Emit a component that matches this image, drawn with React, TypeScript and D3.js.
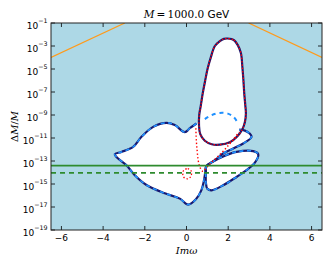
import React from "react";
import * as d3 from "d3";

type P = [number, number];

const xTicks = [-6, -4, -2, 0, 2, 4, 6];
const yTickExps = [-1, -3, -5, -7, -9, -11, -13, -15, -17, -19];

// contour points: [Im ω, log10(ΔM/M)]
const tallLobe: P[] = [
  [1.98, -2.35], [2.27, -2.48], [2.46, -2.92], [2.61, -3.61], [2.68, -4.81],
  [2.73, -5.97], [2.77, -7.12], [2.82, -8.14], [2.85, -8.87], [2.8, -9.62],
  [2.68, -10.23], [2.44, -10.84], [2.08, -11.37], [1.6, -11.58], [1.21, -11.54],
  [0.88, -11.24], [0.66, -10.67], [0.6, -9.89], [0.61, -9.01], [0.69, -8.14],
  [0.78, -7.1], [0.9, -5.97], [1.02, -4.92], [1.17, -3.96], [1.36, -3.0],
  [1.6, -2.57], [1.79, -2.38],
];

const leftLobe: P[] = [
  [0.48, -9.74], [0.16, -10.15], [-0.08, -10.49], [-0.56, -9.88], [-0.96, -9.68],
  [-1.6, -10.03], [-2.16, -10.9], [-2.56, -11.78], [-3.12, -12.21], [-3.44, -12.41],
  [-3.36, -12.65], [-2.88, -13.37], [-2.48, -14.24], [-1.92, -15.09], [-1.04, -15.81],
  [-0.32, -16.27], [0.08, -16.79], [0.45, -16.33], [0.71, -15.55], [0.83, -14.76],
  [0.9, -13.98], [0.95, -13.46], [1.36, -12.93], [1.76, -12.35], [2.24, -11.91],
  [2.72, -11.48], [3.12, -10.9], [3.03, -10.61], [2.8, -10.36], [2.53, -10.28],
];

const rightWing: P[] = [
  [0.95, -13.46], [1.21, -13.11], [1.76, -12.6], [2.4, -12.2], [3.2, -12.14],
  [3.44, -12.4], [3.28, -13.15], [2.88, -13.8], [2.4, -14.39], [1.76, -15.11],
  [1.2, -15.55], [1.0, -15.42], [0.93, -14.85], [0.93, -13.98],
];

const innerArc: P[] = [
  [0.88, -9.36], [1.21, -9.01], [1.6, -8.82], [1.98, -8.88], [2.27, -9.19], [2.48, -9.74],
];

const redDotted: P[] = [
  [0.45, -10.15], [0.47, -11.19], [0.51, -12.06], [0.56, -12.93], [0.64, -13.52],
  [0.78, -13.89], [0.96, -13.59], [1.2, -13.11], [1.52, -12.59], [1.89, -11.89],
  [2.22, -11.19], [2.51, -10.49],
];

const redCircle: P[] = [
  [-0.13, -13.8], [0.06, -13.67], [0.23, -13.89], [0.21, -14.33], [0.06, -14.55],
  [-0.13, -14.41], [-0.18, -14.07],
];

const orangeLeft: P[] = [[-6.5, -4.0], [-2.96, -1.0]];
const orangeRight: P[] = [[2.98, -1.0], [6.5, -4.0]];

const greenSolidExp = -13.4;
const greenDashedExp = -14.04;

const NAVY = "#191970";
const DBLUE = "#1e90ff";

export default function App() {
  const L = 51, R = 322, T = 23, B = 230;
  const x = d3.scaleLinear().domain([-6.5, 6.5]).range([L, R]);
  const y = d3.scaleLog().domain([1e-19, 1e-1]).range([B, T]);
  const gx = (d: P) => x(d[0]);
  const gy = (d: P) => y(Math.pow(10, d[1]));
  const open = d3.line<P>().x(gx).y(gy).curve(d3.curveCatmullRom.alpha(0.5));
  const closed = d3.line<P>().x(gx).y(gy).curve(d3.curveCatmullRomClosed.alpha(0.5));
  const straight = d3.line<P>().x(gx).y(gy);

  const tallD = closed(tallLobe) || "";
  const leftD = open(leftLobe) || "";
  const wingD = closed(rightWing) || "";

  return (
    <div>
      <style>{`body{margin:0}`}</style>
      <svg width={332} height={266} style={{ display: "block" }}>
        <defs>
          <clipPath id="plot">
            <rect x={L} y={T} width={R - L} height={B - T} />
          </clipPath>
        </defs>
        <rect x={0} y={0} width={332} height={266} fill="white" />
        <g clipPath="url(#plot)">
          <rect x={L} y={T} width={R - L} height={B - T} fill="#add8e6" />
          <path d={leftD + "Z"} fill="white" />
          <path d={wingD} fill="white" />
          <path d={tallD} fill="white" />
          <path d={straight(orangeLeft) || ""} stroke="#ff9a1a" strokeWidth={1.2} fill="none" />
          <path d={straight(orangeRight) || ""} stroke="#ff9a1a" strokeWidth={1.2} fill="none" />

          <path d={leftD} stroke={NAVY} strokeWidth={2.2} fill="none" />
          <path d={leftD} stroke={DBLUE} strokeWidth={1.6} strokeDasharray="4,3.5" fill="none" />
          <path d={wingD} stroke={NAVY} strokeWidth={2.2} fill="none" />
          <path d={wingD} stroke={DBLUE} strokeWidth={1.6} strokeDasharray="4,3.5" fill="none" />
          <path d={open(innerArc) || ""} stroke={DBLUE} strokeWidth={2} strokeDasharray="4,4" fill="none" />
          <path d={tallD} stroke={NAVY} strokeWidth={2.2} fill="none" />
          <path d={tallD} stroke="red" strokeWidth={1.3} strokeDasharray="1.5,1.8" fill="none" />
          <path d={open(redDotted) || ""} stroke="red" strokeWidth={1.4} strokeDasharray="1.4,2.2" fill="none" />
          <path d={closed(redCircle) || ""} stroke="red" strokeWidth={1.3} strokeDasharray="1.4,2" fill="none" />

          <line x1={L} x2={R} y1={y(Math.pow(10, greenSolidExp))} y2={y(Math.pow(10, greenSolidExp))}
            stroke="#2e8b2e" strokeWidth={1.8} />
          <line x1={L} x2={R} y1={y(Math.pow(10, greenDashedExp))} y2={y(Math.pow(10, greenDashedExp))}
            stroke="#2e8b2e" strokeWidth={1.8} strokeDasharray="5,4" />
        </g>

        {/* ticks */}
        {xTicks.map((t) => (
          <g key={"xt" + t}>
            <line x1={x(t)} x2={x(t)} y1={B} y2={B - 4} stroke="black" strokeWidth={0.8} />
            <line x1={x(t)} x2={x(t)} y1={T} y2={T + 4} stroke="black" strokeWidth={0.8} />
            <text x={x(t)} y={240.5} fontFamily="DejaVu Sans" fontSize={9} textAnchor="middle" fill="black">
              {t < 0 ? "\u2212" + Math.abs(t) : String(t)}
            </text>
          </g>
        ))}
        {yTickExps.map((e) => {
          const yy = y(Math.pow(10, e));
          return (
            <g key={"yt" + e}>
              <line x1={L} x2={L + 4} y1={yy} y2={yy} stroke="black" strokeWidth={0.8} />
              <line x1={R} x2={R - 4} y1={yy} y2={yy} stroke="black" strokeWidth={0.8} />
              <text x={47.5} y={yy + 5.5} fontFamily="DejaVu Sans" fontSize={9} textAnchor="end" fill="black">
                10
                <tspan dy={-5.8} fontSize={6.3}>{"\u2212" + Math.abs(e)}</tspan>
              </text>
            </g>
          );
        })}
        <rect x={L} y={T} width={R - L} height={B - T} fill="none" stroke="#222" strokeWidth={1} />

        {/* title */}
        <text x={186.5} y={17.5} textAnchor="middle" fontSize={10.5} fill="black">
          <tspan fontFamily="DejaVu Serif" fontStyle="italic">M</tspan>
          <tspan fontFamily="DejaVu Serif">{"\u2009=\u20091000.0"}</tspan>
          <tspan fontFamily="DejaVu Sans">{" GeV"}</tspan>
        </text>
        {/* x label */}
        <text x={186.5} y={254} textAnchor="middle" fontSize={10} fontFamily="DejaVu Serif" fontStyle="italic" fill="black">
          Imω
        </text>
        {/* y label */}
        <text transform={`translate(17.5,126.5) rotate(-90)`} textAnchor="middle" fontSize={10} fontFamily="DejaVu Serif" fill="black">
          Δ<tspan fontStyle="italic">M</tspan>/<tspan fontStyle="italic">M</tspan>
        </text>
      </svg>
    </div>
  );
}
